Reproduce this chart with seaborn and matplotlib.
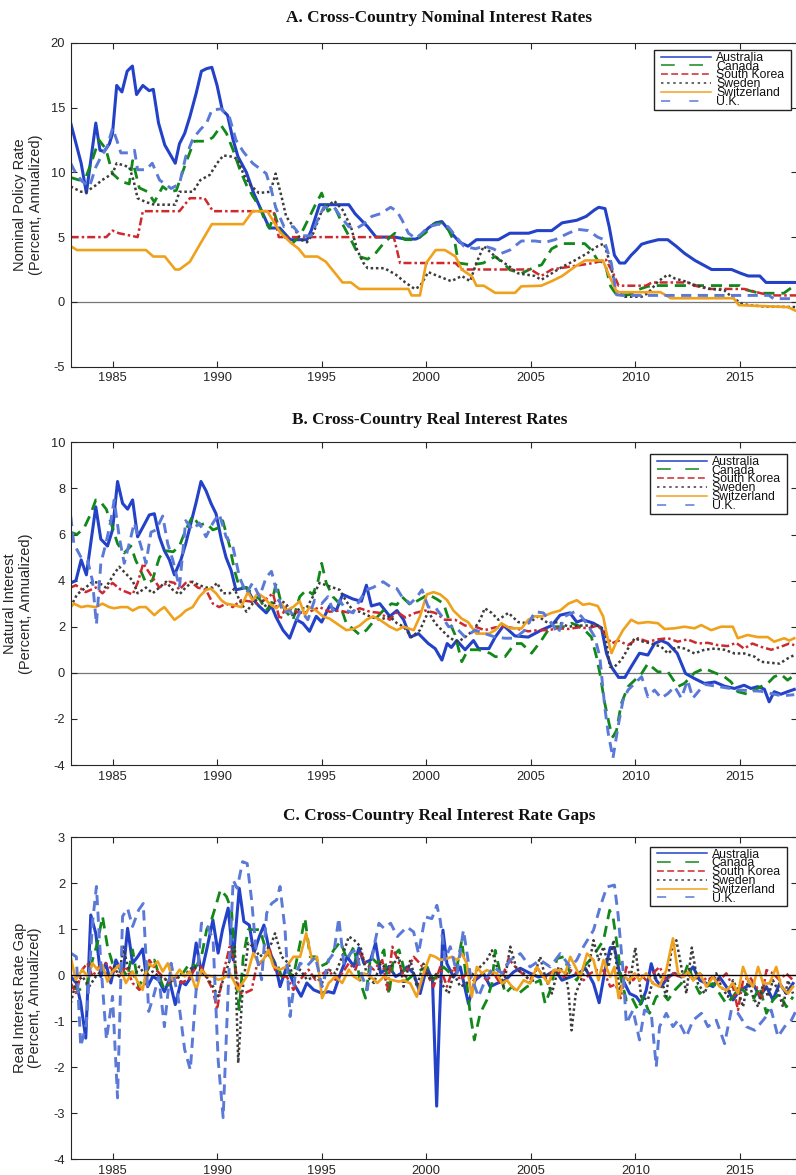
import matplotlib
matplotlib.use("Agg")
import matplotlib.pyplot as plt
from matplotlib.lines import Line2D
from matplotlib.patches import Rectangle
from matplotlib.transforms import IdentityTransform
import pandas as pd
import seaborn as sns

# ---------------- data (year, value) ----------------
countries = ["Australia", "Canada", "South Korea", "Sweden", "Switzerland", "U.K."]

# Panel A: nominal policy rates
aus_a = [(1983.0,13.8),(1983.5,10.7),(1983.75,8.4),(1984.2,13.8),(1984.4,11.7),(1984.6,11.6),(1984.85,12.2),(1985.0,13.0),(1985.2,16.7),(1985.45,16.2),(1985.7,17.8),(1985.95,18.2),(1986.15,16.0),(1986.45,16.7),(1986.75,16.3),(1986.95,16.4),(1987.2,13.8),(1987.5,12.1),(1988.0,10.7),(1988.2,12.2),(1988.45,13.0),(1988.7,14.3),(1989.0,16.1),(1989.25,17.8),(1989.5,18.0),(1989.75,18.1),(1990.0,16.7),(1990.25,14.8),(1990.5,14.4),(1990.75,12.6),(1991.0,11.2),(1991.4,10.0),(1991.75,8.4),(1992.05,7.3),(1992.5,5.7),(1993.0,5.7),(1993.5,4.8),(1994.3,4.8),(1994.5,5.5),(1994.9,7.5),(1996.3,7.5),(1996.6,6.8),(1997.2,5.8),(1997.6,5.0),(1998.5,5.0),(1999.0,4.85),(1999.5,4.85),(1999.7,5.0),(2000.1,5.7),(2000.45,6.1),(2000.75,6.2),(2001.05,5.6),(2001.6,4.6),(2002.0,4.3),(2002.4,4.8),(2003.45,4.8),(2004.0,5.3),(2004.9,5.3),(2005.3,5.5),(2006.0,5.5),(2006.5,6.1),(2007.2,6.3),(2007.65,6.6),(2008.05,7.1),(2008.25,7.3),(2008.55,7.2),(2008.75,5.8),(2009.0,3.6),(2009.25,3.0),(2009.5,3.0),(2009.8,3.6),(2010.05,4.0),(2010.3,4.45),(2010.6,4.6),(2011.1,4.8),(2011.55,4.8),(2011.95,4.3),(2012.35,3.75),(2012.85,3.2),(2013.25,2.85),(2013.65,2.5),(2014.6,2.5),(2015.05,2.2),(2015.4,2.0),(2015.95,2.0),(2016.25,1.5),(2017.75,1.5)]
can_a = [(1983.0,9.6),(1983.4,9.4),(1983.7,9.5),(1984.0,10.8),(1984.35,12.5),(1984.68,11.8),(1985.0,9.9),(1985.4,9.3),(1985.8,9.1),(1985.96,10.9),(1986.28,8.8),(1986.68,8.5),(1987.0,7.7),(1987.4,8.9),(1987.72,8.5),(1988.05,8.6),(1988.5,10.7),(1988.9,12.4),(1989.5,12.4),(1989.8,12.7),(1990.2,13.6),(1990.45,13.0),(1990.77,11.7),(1991.09,10.2),(1991.41,9.0),(1991.73,8.1),(1992.05,7.3),(1992.3,6.2),(1992.5,5.7),(1992.75,6.8),(1993.0,5.5),(1993.3,4.9),(1993.6,4.5),(1994.0,5.2),(1994.4,6.5),(1994.7,7.5),(1995.0,8.4),(1995.3,7.0),(1995.6,7.4),(1996.0,6.0),(1996.4,4.8),(1996.8,3.5),(1997.2,3.3),(1997.6,3.8),(1998.0,4.6),(1998.5,5.3),(1999.0,4.8),(1999.5,4.8),(1999.95,5.3),(2000.35,6.0),(2000.75,6.1),(2001.05,5.6),(2001.38,4.5),(2001.54,3.0),(2002.18,2.86),(2002.73,3.0),(2003.3,3.5),(2003.77,2.86),(2004.0,2.47),(2004.56,2.2),(2005.2,2.7),(2005.52,2.86),(2006.0,4.1),(2006.47,4.5),(2007.58,4.5),(2007.9,4.0),(2008.2,3.2),(2008.54,3.0),(2008.82,1.2),(2009.1,0.55),(2009.7,0.55),(2010.1,0.93),(2010.6,1.2),(2011.1,1.26),(2015.0,1.26),(2015.3,0.93),(2015.95,0.67),(2017.1,0.67),(2017.55,1.2)]
kor_a = [(1983.0,5.0),(1984.7,5.0),(1985.0,5.5),(1985.3,5.3),(1986.2,5.0),(1986.45,7.0),(1988.2,7.0),(1988.7,8.0),(1989.4,8.0),(1989.8,7.0),(1992.7,7.0),(1992.95,5.0),(1998.45,5.0),(1998.75,3.0),(2001.4,3.0),(2001.7,2.5),(2005.0,2.5),(2005.5,2.0),(2006.0,2.5),(2007.0,2.75),(2008.0,3.0),(2008.6,3.25),(2009.0,2.0),(2009.2,1.25),(2010.5,1.25),(2010.8,1.5),(2012.5,1.5),(2012.85,1.25),(2013.5,1.0),(2015.2,1.0),(2016.0,0.67),(2016.5,0.5),(2017.75,0.5)]
swe_a = [(1983.0,8.9),(1983.5,8.5),(1983.75,8.5),(1984.2,9.0),(1984.5,9.4),(1985.0,9.9),(1985.2,10.7),(1985.8,10.4),(1986.0,9.4),(1986.2,8.0),(1986.6,7.7),(1987.0,7.5),(1988.0,7.5),(1988.2,8.5),(1988.85,8.5),(1989.2,9.4),(1989.65,9.8),(1990.0,10.7),(1990.3,11.3),(1990.75,11.2),(1991.0,11.0),(1991.25,9.9),(1991.6,9.0),(1992.0,8.4),(1992.55,8.5),(1992.8,9.9),(1993.1,8.0),(1993.3,6.6),(1993.65,5.8),(1994.0,4.8),(1994.3,4.6),(1994.6,5.3),(1995.0,7.0),(1995.6,7.8),(1996.0,7.1),(1996.4,5.8),(1996.7,4.0),(1997.0,3.0),(1997.2,2.6),(1998.0,2.6),(1998.55,2.1),(1999.0,1.5),(1999.45,1.0),(1999.7,1.2),(2000.1,2.3),(2000.55,2.0),(2001.2,1.6),(2001.7,2.0),(2002.1,1.6),(2002.4,3.0),(2002.75,4.3),(2003.3,3.5),(2004.0,2.7),(2004.4,2.2),(2005.2,2.0),(2005.5,1.7),(2006.0,2.2),(2006.5,2.7),(2007.1,3.2),(2007.7,3.75),(2008.2,4.3),(2008.5,4.5),(2008.85,2.7),(2009.05,0.9),(2009.5,0.4),(2010.3,0.4),(2010.6,0.67),(2011.1,1.6),(2011.55,2.1),(2011.9,1.8),(2012.35,1.6),(2012.85,1.3),(2013.6,1.0),(2014.25,0.9),(2014.6,0.4),(2015.05,-0.1),(2015.4,-0.25),(2016.2,-0.36),(2017.75,-0.4)]
swi_a = [(1983.0,4.3),(1983.3,4.0),(1986.6,4.0),(1986.95,3.5),(1987.5,3.5),(1988.0,2.5),(1988.2,2.5),(1988.7,3.1),(1989.2,4.5),(1989.75,6.0),(1991.25,6.0),(1991.7,7.0),(1992.4,7.0),(1993.0,5.4),(1993.5,4.6),(1993.9,4.1),(1994.2,3.5),(1994.8,3.5),(1995.2,3.1),(1995.6,2.3),(1996.0,1.5),(1996.4,1.5),(1996.8,1.0),(1999.15,1.0),(1999.3,0.5),(1999.7,0.5),(2000.0,3.0),(2000.45,4.0),(2000.9,4.0),(2001.4,3.5),(2001.7,2.5),(2002.2,1.95),(2002.4,1.25),(2002.75,1.25),(2003.3,0.7),(2004.25,0.7),(2004.55,1.2),(2005.5,1.25),(2006.0,1.6),(2006.5,2.0),(2007.1,2.7),(2007.6,3.2),(2008.45,3.2),(2008.7,2.2),(2009.1,0.8),(2009.2,0.75),(2011.2,0.75),(2011.7,0.28),(2014.7,0.28),(2014.95,-0.25),(2016.2,-0.33),(2017.3,-0.4),(2017.75,-0.75)]
uk_a = [(1983.0,10.7),(1983.25,9.9),(1983.55,9.3),(1983.9,8.9),(1984.2,10.4),(1984.45,11.2),(1984.75,12.0),(1985.0,13.4),(1985.2,12.5),(1985.4,11.5),(1985.8,11.5),(1986.05,11.7),(1986.2,10.2),(1986.6,10.2),(1986.9,10.7),(1987.25,9.4),(1987.6,9.0),(1987.8,8.75),(1988.2,9.1),(1988.5,11.2),(1988.85,12.6),(1989.2,13.3),(1989.5,13.8),(1989.75,14.8),(1990.2,14.9),(1990.6,14.2),(1990.9,12.5),(1991.25,11.6),(1991.7,10.7),(1992.35,9.9),(1992.6,8.6),(1992.8,7.3),(1993.2,5.8),(1993.65,5.8),(1994.0,5.1),(1994.5,5.1),(1994.8,6.3),(1995.1,7.3),(1995.6,7.3),(1995.9,6.6),(1996.3,5.8),(1996.7,5.7),(1997.0,6.0),(1997.4,6.6),(1997.8,6.8),(1998.3,7.3),(1998.6,7.0),(1998.85,6.3),(1999.15,5.3),(1999.5,4.9),(1999.8,5.3),(2000.1,5.8),(2000.6,6.0),(2001.05,5.8),(2001.45,5.0),(2001.8,4.3),(2002.35,4.1),(2002.8,4.3),(2003.2,4.1),(2003.6,3.75),(2004.0,4.0),(2004.55,4.7),(2005.2,4.7),(2005.7,4.6),(2006.15,4.8),(2006.8,5.3),(2007.25,5.6),(2007.75,5.5),(2008.2,5.0),(2008.5,4.8),(2008.85,3.0),(2009.1,0.55),(2009.35,0.5),(2016.4,0.5),(2016.6,0.25),(2017.75,0.25)]

# Panel B: real (natural) interest rates
aus_b = [(1983.0,3.9),(1983.25,4.0),(1983.5,4.9),(1983.75,4.25),(1984.2,7.2),(1984.44,5.8),(1984.76,5.5),(1985.0,6.2),(1985.24,8.3),(1985.48,7.35),(1985.72,7.1),(1985.96,7.5),(1986.2,5.9),(1986.44,6.3),(1986.76,6.85),(1987.0,6.9),(1987.24,5.9),(1987.48,5.3),(1987.72,4.9),(1987.96,4.25),(1988.27,4.9),(1988.5,5.6),(1988.75,6.5),(1989.0,7.4),(1989.23,8.3),(1989.47,7.9),(1989.71,7.35),(1989.95,6.9),(1990.2,5.8),(1990.43,5.0),(1990.67,4.45),(1990.9,3.6),(1991.4,3.7),(1991.7,3.2),(1992.0,2.9),(1992.35,2.6),(1992.6,2.9),(1992.83,2.4),(1993.15,1.85),(1993.47,1.5),(1993.8,2.3),(1994.1,2.15),(1994.42,1.8),(1994.74,2.45),(1995.0,2.2),(1995.38,2.9),(1995.7,2.7),(1996.0,3.4),(1996.5,3.2),(1996.9,3.1),(1997.14,3.8),(1997.38,2.9),(1997.78,3.0),(1998.26,2.45),(1998.6,2.7),(1998.92,2.3),(1999.24,1.55),(1999.63,1.7),(2000.1,1.27),(2000.43,1.05),(2000.75,0.55),(2001.0,1.27),(2001.2,1.1),(2001.46,1.4),(2001.86,1.0),(2002.26,1.4),(2002.5,1.05),(2003.0,1.05),(2003.3,1.55),(2003.7,2.05),(2004.24,1.6),(2004.88,1.55),(2005.5,1.85),(2006.0,2.05),(2006.4,2.5),(2006.87,2.6),(2007.2,2.2),(2007.5,2.3),(2008.0,2.15),(2008.38,1.95),(2008.62,0.85),(2008.86,0.25),(2009.2,-0.2),(2009.5,-0.2),(2009.8,0.26),(2010.2,0.85),(2010.6,0.77),(2010.92,1.27),(2011.24,1.4),(2011.56,1.27),(2012.0,0.85),(2012.4,-0.03),(2012.83,-0.25),(2013.3,-0.46),(2013.8,-0.4),(2014.26,-0.58),(2014.74,-0.68),(2015.2,-0.54),(2015.53,-0.68),(2015.85,-0.6),(2016.17,-0.71),(2016.4,-1.26),(2016.64,-0.82),(2016.96,-0.93),(2017.28,-0.82),(2017.6,-0.72)]
can_b = [(1983.0,6.1),(1983.3,6.0),(1983.65,6.3),(1983.96,6.9),(1984.2,7.5),(1984.44,7.4),(1984.7,7.1),(1985.0,6.3),(1985.24,5.6),(1985.56,5.2),(1985.88,5.5),(1986.1,4.9),(1986.36,4.4),(1986.6,3.9),(1986.9,4.0),(1987.24,5.0),(1987.5,5.3),(1987.9,5.25),(1988.2,5.5),(1988.5,6.2),(1988.83,6.8),(1989.15,6.4),(1989.47,6.5),(1989.8,6.2),(1990.1,6.3),(1990.27,6.6),(1990.6,5.5),(1990.83,4.45),(1991.07,3.7),(1991.4,3.7),(1991.7,3.4),(1992.03,3.2),(1992.35,2.7),(1992.6,3.0),(1992.83,3.9),(1993.07,3.0),(1993.3,2.65),(1993.63,2.3),(1993.95,3.3),(1994.27,3.6),(1994.58,3.4),(1994.83,4.0),(1995.0,4.75),(1995.22,3.9),(1995.54,3.3),(1995.86,3.0),(1996.18,2.15),(1996.5,1.9),(1996.82,1.65),(1997.14,1.85),(1997.54,2.3),(1997.94,2.7),(1998.34,3.0),(1998.6,2.95),(1998.84,3.3),(1999.24,2.95),(1999.63,3.15),(2000.1,3.4),(2000.5,3.2),(2000.83,3.0),(2001.14,2.15),(2001.38,1.65),(2001.7,0.48),(2002.0,1.0),(2002.5,1.0),(2003.05,0.85),(2003.3,0.7),(2003.77,0.7),(2004.24,1.27),(2004.56,1.27),(2005.04,0.85),(2005.5,1.4),(2005.83,1.85),(2006.15,2.0),(2006.63,2.0),(2006.95,2.15),(2007.42,2.0),(2007.9,1.55),(2008.14,0.7),(2008.3,0.0),(2008.54,-1.33),(2008.78,-2.35),(2008.93,-2.78),(2009.1,-2.5),(2009.33,-1.33),(2009.65,-0.6),(2009.97,-0.32),(2010.3,-0.03),(2010.6,0.4),(2011.08,0.04),(2011.56,0.04),(2012.03,-0.6),(2012.35,-0.46),(2012.83,0.0),(2013.3,0.19),(2013.8,0.0),(2014.26,-0.17),(2014.58,-0.4),(2014.9,-0.82),(2015.37,-0.93),(2015.7,-0.75),(2016.0,-0.6),(2016.33,-0.46),(2016.64,-0.17),(2016.96,-0.06),(2017.28,-0.32),(2017.6,-0.1)]
kor_b = [(1983.0,3.7),(1983.25,3.8),(1983.72,3.5),(1984.2,3.7),(1984.52,3.45),(1985.0,3.9),(1985.4,3.6),(1985.96,3.4),(1986.2,3.9),(1986.47,4.75),(1986.68,4.45),(1986.9,4.15),(1987.24,3.7),(1987.72,3.95),(1987.96,3.9),(1988.2,3.6),(1988.5,3.9),(1988.75,3.95),(1989.07,3.7),(1989.47,3.6),(1989.8,3.0),(1990.1,2.85),(1990.43,3.0),(1990.75,2.85),(1991.15,3.15),(1991.55,3.1),(1991.95,3.0),(1992.35,3.2),(1992.67,3.45),(1993.0,2.3),(1993.3,2.85),(1993.63,2.7),(1993.95,2.6),(1994.42,2.65),(1994.9,2.85),(1995.38,2.65),(1995.86,2.7),(1996.34,2.6),(1996.82,2.8),(1997.3,2.65),(1997.78,2.6),(1998.26,2.3),(1998.6,2.65),(1999.0,2.4),(1999.48,2.6),(1999.95,2.7),(2000.43,2.6),(2000.9,2.3),(2001.38,2.3),(2001.86,2.05),(2002.34,2.0),(2002.8,1.85),(2003.3,1.97),(2003.77,2.0),(2004.24,1.93),(2004.88,1.8),(2005.36,1.85),(2005.83,1.85),(2006.3,1.93),(2006.8,1.9),(2007.27,1.97),(2007.74,1.93),(2008.2,2.05),(2008.54,1.7),(2008.86,1.27),(2009.17,1.4),(2009.65,1.2),(2010.13,1.5),(2010.6,1.35),(2011.08,1.45),(2011.56,1.5),(2012.03,1.35),(2012.5,1.45),(2012.99,1.27),(2013.47,1.3),(2013.94,1.2),(2014.42,1.16),(2014.82,1.3),(2015.2,1.05),(2015.6,1.27),(2016.0,1.13),(2016.5,1.0),(2016.96,1.13),(2017.36,1.27),(2017.6,1.2)]
swe_b = [(1983.0,2.85),(1983.3,3.4),(1983.72,3.7),(1984.04,3.95),(1984.36,3.9),(1984.68,3.7),(1985.08,4.3),(1985.32,4.6),(1985.64,4.3),(1985.96,4.0),(1986.2,3.45),(1986.6,3.7),(1986.92,3.45),(1987.24,3.7),(1987.56,3.95),(1987.88,3.6),(1988.2,3.4),(1988.5,3.7),(1988.83,3.95),(1989.15,3.8),(1989.47,3.7),(1989.8,3.7),(1990.0,3.9),(1990.27,3.45),(1990.6,3.45),(1990.83,3.65),(1991.07,3.15),(1991.4,2.65),(1991.7,3.0),(1992.03,3.3),(1992.35,2.85),(1992.67,3.0),(1993.0,3.15),(1993.3,3.0),(1993.63,2.45),(1993.95,2.8),(1994.27,2.8),(1994.58,3.3),(1994.9,3.9),(1995.22,3.8),(1995.54,3.7),(1995.86,3.6),(1996.18,3.1),(1996.5,2.7),(1996.82,2.65),(1997.3,2.45),(1997.78,2.3),(1998.26,2.45),(1998.6,2.15),(1998.92,2.0),(1999.3,1.55),(1999.7,1.85),(2000.1,2.65),(2000.43,2.15),(2000.75,1.85),(2001.14,1.5),(2001.54,1.35),(2001.86,1.55),(2002.26,1.85),(2002.58,2.3),(2002.8,2.8),(2003.13,2.6),(2003.45,2.3),(2003.93,2.6),(2004.4,2.2),(2004.88,2.15),(2005.36,2.45),(2005.83,2.15),(2006.3,2.2),(2006.8,2.0),(2007.27,2.05),(2007.74,2.05),(2008.2,2.05),(2008.54,1.85),(2008.78,0.26),(2009.0,0.26),(2009.33,0.55),(2009.65,1.05),(2009.97,1.5),(2010.37,1.35),(2010.76,1.27),(2011.24,1.13),(2011.56,0.84),(2011.96,1.13),(2012.35,1.05),(2012.83,0.84),(2013.3,1.0),(2013.8,1.05),(2014.26,1.0),(2014.74,0.84),(2015.2,0.84),(2015.7,0.7),(2016.0,0.48),(2016.5,0.43),(2016.9,0.4),(2017.28,0.62),(2017.6,0.77)]
swi_b = [(1983.0,2.85),(1983.15,3.0),(1983.5,2.85),(1983.8,2.9),(1984.2,2.85),(1984.52,3.0),(1984.84,2.85),(1985.08,2.8),(1985.4,2.85),(1985.72,2.85),(1985.96,2.7),(1986.28,2.85),(1986.6,2.85),(1987.0,2.5),(1987.24,2.7),(1987.48,2.85),(1987.96,2.3),(1988.27,2.5),(1988.5,2.7),(1988.83,2.85),(1989.15,3.3),(1989.47,3.6),(1989.7,3.65),(1989.95,3.45),(1990.2,3.15),(1990.43,3.0),(1990.75,2.95),(1991.15,2.85),(1991.47,3.5),(1991.7,3.15),(1991.95,3.45),(1992.27,3.25),(1992.5,3.0),(1992.83,2.8),(1993.07,3.0),(1993.3,2.7),(1993.63,2.85),(1993.95,3.1),(1994.2,2.5),(1994.42,2.85),(1994.74,2.7),(1995.06,2.45),(1995.38,2.35),(1995.7,2.15),(1996.18,1.85),(1996.5,1.9),(1996.82,2.05),(1997.14,2.3),(1997.46,2.45),(1997.78,2.3),(1998.26,2.0),(1998.6,1.85),(1998.92,2.0),(1999.4,1.85),(1999.7,2.45),(2000.03,3.4),(2000.35,3.5),(2000.67,3.4),(2001.0,3.15),(2001.3,2.7),(2001.7,2.35),(2002.0,2.2),(2002.4,1.7),(2003.0,1.7),(2003.3,1.85),(2003.6,2.15),(2004.0,1.93),(2004.56,1.93),(2004.88,2.3),(2005.2,2.45),(2005.6,2.45),(2006.0,2.6),(2006.4,2.7),(2006.8,3.0),(2007.2,3.15),(2007.5,2.95),(2007.8,3.0),(2008.2,2.9),(2008.46,2.45),(2008.66,1.55),(2008.86,0.85),(2009.1,1.35),(2009.41,1.85),(2009.8,2.3),(2010.13,2.15),(2010.6,2.2),(2011.08,2.15),(2011.4,1.9),(2011.88,1.93),(2012.35,2.0),(2012.83,1.93),(2013.15,2.07),(2013.63,1.85),(2014.1,2.0),(2014.66,2.0),(2014.9,1.5),(2015.37,1.64),(2015.85,1.55),(2016.33,1.55),(2016.64,1.35),(2017.12,1.5),(2017.36,1.4),(2017.6,1.5)]
uk_b = [(1983.0,6.8),(1983.15,5.6),(1983.5,5.0),(1983.8,4.9),(1984.04,4.0),(1984.23,2.1),(1984.44,4.75),(1984.68,5.6),(1984.92,6.6),(1985.08,7.5),(1985.32,5.9),(1985.56,4.75),(1985.88,5.9),(1986.04,6.5),(1986.28,5.75),(1986.6,4.75),(1986.84,6.1),(1987.08,6.2),(1987.4,6.8),(1987.64,5.6),(1987.88,4.9),(1988.2,3.7),(1988.5,6.6),(1988.83,6.2),(1989.15,6.5),(1989.47,5.9),(1989.8,6.5),(1990.1,6.9),(1990.43,5.9),(1990.75,5.5),(1991.07,4.15),(1991.4,3.45),(1991.7,3.9),(1992.03,3.3),(1992.35,4.15),(1992.6,4.4),(1992.83,3.6),(1993.15,2.6),(1993.47,2.7),(1993.8,2.3),(1994.0,2.7),(1994.34,2.3),(1994.66,3.15),(1995.0,3.0),(1995.3,3.3),(1995.54,2.7),(1995.86,3.15),(1996.18,2.7),(1996.5,2.6),(1996.82,3.15),(1997.14,3.6),(1997.46,3.7),(1997.94,3.95),(1998.34,3.7),(1998.6,3.65),(1998.84,3.3),(1999.24,3.0),(1999.56,3.3),(1999.8,3.6),(2000.1,2.85),(2000.43,2.85),(2000.75,2.45),(2001.07,2.0),(2001.38,2.0),(2001.86,1.55),(2002.34,1.85),(2002.8,1.7),(2003.3,1.55),(2003.77,1.5),(2004.24,1.5),(2004.72,1.85),(2005.2,2.65),(2005.6,2.6),(2006.0,2.15),(2006.3,1.7),(2006.63,2.45),(2007.1,2.65),(2007.42,2.45),(2007.74,2.05),(2008.06,1.55),(2008.3,0.7),(2008.54,-1.5),(2008.7,-2.6),(2008.93,-3.7),(2009.17,-2.35),(2009.41,-1.2),(2009.65,-0.75),(2009.97,-0.46),(2010.3,-0.17),(2010.6,-1.04),(2010.92,-0.75),(2011.24,-1.1),(2011.56,-0.9),(2011.88,-0.6),(2012.2,-1.1),(2012.5,-0.32),(2012.75,-1.1),(2013.3,-0.5),(2014.0,-0.6),(2015.0,-0.75),(2016.0,-0.8),(2017.0,-1.0),(2017.6,-0.95)]

# Panel C: real interest rate gaps
aus_c = [(1983.0,-0.03),(1983.27,-0.17),(1983.48,-0.61),(1983.72,-1.37),(1983.96,1.31),(1984.2,0.91),(1984.44,-0.03),(1984.68,0.26),(1984.92,-0.17),(1985.16,0.33),(1985.5,0.0),(1985.72,1.02),(1985.96,0.26),(1986.2,0.4),(1986.44,0.57),(1986.68,-0.25),(1986.92,-0.03),(1987.2,-0.1),(1987.48,-0.36),(1987.72,-0.1),(1988.0,-0.64),(1988.28,-0.14),(1988.5,-0.21),(1988.77,-0.03),(1989.0,0.7),(1989.25,0.04),(1989.5,0.55),(1989.8,1.2),(1990.05,0.48),(1990.26,0.99),(1990.53,1.46),(1990.77,0.33),(1991.06,1.89),(1991.28,1.17),(1991.54,1.09),(1991.76,0.48),(1992.02,0.84),(1992.24,1.09),(1992.53,0.48),(1992.77,0.26),(1993.01,-0.25),(1993.33,0.19),(1993.65,-0.17),(1994.02,-0.46),(1994.29,-0.17),(1994.62,-0.32),(1995.0,-0.39),(1995.33,-0.36),(1995.58,-0.39),(1995.9,0.04),(1996.22,0.4),(1996.54,0.19),(1996.78,0.59),(1997.02,0.26),(1997.34,0.33),(1997.58,0.7),(1997.82,0.04),(1998.22,0.19),(1998.54,-0.03),(1998.8,0.04),(1999.08,0.18),(1999.4,0.04),(1999.71,-0.4),(2000.03,0.18),(2000.3,-0.11),(2000.5,-2.85),(2000.62,-1.12),(2000.8,0.98),(2000.99,0.25),(2001.31,-0.04),(2001.63,0.18),(2002.02,-0.62),(2002.34,-0.11),(2002.74,0.04),(2003.06,-0.25),(2003.38,-0.18),(2003.78,-0.11),(2004.18,0.07),(2004.5,0.15),(2004.97,0.04),(2005.37,-0.04),(2005.77,0.0),(2006.17,0.11),(2006.49,-0.11),(2006.89,-0.04),(2007.29,0.04),(2007.61,0.15),(2008.0,-0.18),(2008.27,-0.6),(2008.55,0.11),(2008.8,0.6),(2009.0,0.6),(2009.25,0.04),(2009.49,-0.18),(2009.73,-0.4),(2010.05,-0.47),(2010.28,-0.62),(2010.52,-0.33),(2010.76,0.25),(2011.0,-0.11),(2011.24,-0.25),(2011.56,-0.04),(2011.88,0.04),(2012.2,-0.04),(2012.52,0.04),(2012.76,0.18),(2013.08,-0.11),(2013.4,-0.18),(2013.71,-0.25),(2014.03,-0.04),(2014.35,-0.25),(2014.67,-0.54),(2014.99,-0.33),(2015.31,-0.25),(2015.63,-0.18),(2015.95,-0.47),(2016.27,-0.25),(2016.58,-0.54),(2016.9,-0.18),(2017.22,-0.4),(2017.54,-0.18)]
can_c = [(1983.0,-0.25),(1983.4,-0.32),(1983.75,-0.25),(1984.04,0.33),(1984.28,0.7),(1984.52,1.28),(1984.76,0.62),(1985.0,0.26),(1985.24,0.19),(1985.48,0.12),(1985.72,-0.03),(1985.96,0.55),(1986.25,-0.25),(1986.52,-0.03),(1986.76,0.19),(1987.0,0.33),(1987.24,-0.03),(1987.48,-0.32),(1987.72,-0.17),(1988.04,-0.03),(1988.36,0.04),(1988.69,0.26),(1989.0,0.19),(1989.25,0.4),(1989.5,0.99),(1989.73,1.2),(1989.97,1.56),(1990.16,1.86),(1990.45,1.71),(1990.69,1.42),(1990.9,-0.1),(1991.06,-0.75),(1991.25,0.4),(1991.49,0.99),(1991.73,0.99),(1992.05,0.99),(1992.29,0.62),(1992.53,0.4),(1992.85,0.26),(1993.09,-0.03),(1993.33,0.12),(1993.65,-0.03),(1993.97,0.7),(1994.2,1.24),(1994.45,0.4),(1994.7,0.4),(1994.94,0.19),(1995.25,0.26),(1995.58,0.55),(1995.9,0.73),(1996.22,0.33),(1996.54,0.62),(1996.86,-0.17),(1997.1,-0.5),(1997.34,0.4),(1997.66,0.26),(1997.98,0.55),(1998.22,-0.43),(1998.46,0.44),(1998.7,0.55),(1999.08,-0.11),(1999.55,0.07),(2000.03,0.18),(2000.35,-0.1),(2000.83,0.18),(2001.15,0.04),(2001.47,0.18),(2001.7,0.76),(2001.94,-0.18),(2002.1,-0.83),(2002.3,-1.41),(2002.58,-0.83),(2002.9,-0.54),(2003.14,-0.18),(2003.3,0.54),(2003.54,0.04),(2003.78,-0.4),(2004.1,-0.25),(2004.42,-0.4),(2004.82,-0.25),(2005.13,-0.18),(2005.45,-0.11),(2005.69,-0.62),(2005.93,-0.33),(2006.25,0.36),(2006.57,0.4),(2006.89,0.04),(2007.2,-0.11),(2007.52,0.18),(2007.84,0.33),(2008.16,0.54),(2008.48,0.76),(2008.77,1.41),(2008.93,1.27),(2009.17,0.54),(2009.33,-0.11),(2009.57,-0.54),(2009.81,-0.47),(2010.13,-0.76),(2010.36,-0.47),(2010.68,-0.83),(2011.0,-0.47),(2011.32,-0.4),(2011.56,-0.54),(2011.88,-0.33),(2012.2,-0.18),(2012.52,0.25),(2012.76,-0.11),(2013.08,-0.4),(2013.4,-0.25),(2013.71,-0.18),(2014.03,-0.4),(2014.35,-0.62),(2014.67,-0.47),(2014.99,-0.25),(2015.31,-0.4),(2015.63,-0.54),(2015.95,-0.25),(2016.27,-0.83),(2016.58,-0.54),(2016.9,-0.4),(2017.22,-0.69),(2017.54,-0.47)]
kor_c = [(1983.0,-0.17),(1983.25,-0.39),(1983.55,0.12),(1983.8,0.26),(1984.04,-0.03),(1984.36,0.19),(1984.68,0.26),(1985.0,0.12),(1985.32,-0.03),(1985.64,0.19),(1985.96,-0.17),(1986.28,-0.32),(1986.6,-0.17),(1986.76,0.33),(1987.08,0.12),(1987.4,-0.03),(1987.72,-0.17),(1988.04,-0.03),(1988.28,-0.17),(1988.6,-0.1),(1988.92,0.12),(1989.15,0.26),(1989.47,-0.03),(1989.8,-0.32),(1990.0,-0.75),(1990.26,-0.03),(1990.6,0.62),(1990.84,0.26),(1991.08,-0.39),(1991.32,-0.39),(1991.65,-0.32),(1991.89,0.19),(1992.21,0.33),(1992.53,0.55),(1992.77,0.12),(1993.09,-0.03),(1993.33,-0.03),(1993.65,-0.32),(1993.97,-0.1),(1994.37,0.12),(1994.7,-0.1),(1994.94,0.0),(1995.33,0.12),(1995.66,-0.1),(1995.98,0.04),(1996.3,0.26),(1996.62,0.12),(1996.86,0.48),(1997.18,0.22),(1997.5,0.12),(1997.9,0.33),(1998.14,-0.32),(1998.38,0.62),(1998.7,0.26),(1998.93,-0.04),(1999.4,0.4),(1999.71,0.25),(2000.03,0.04),(2000.35,-0.25),(2000.67,0.18),(2000.99,-0.25),(2001.31,0.18),(2001.63,-0.11),(2001.95,0.04),(2002.26,-0.11),(2002.58,0.04),(2002.9,-0.11),(2003.22,0.04),(2003.54,-0.18),(2003.94,0.36),(2004.26,0.18),(2004.58,0.04),(2004.97,-0.11),(2005.29,0.18),(2005.61,-0.04),(2005.93,0.04),(2006.25,0.11),(2006.57,-0.04),(2006.89,0.11),(2007.21,0.04),(2007.53,-0.11),(2007.85,0.04),(2008.16,0.11),(2008.48,0.1),(2008.8,-0.25),(2009.05,-0.2),(2009.3,-0.5),(2009.57,0.18),(2009.89,-0.11),(2010.2,0.04),(2010.52,-0.11),(2010.84,0.04),(2011.16,0.18),(2011.48,-0.11),(2011.8,0.04),(2012.12,-0.04),(2012.44,0.07),(2012.76,-0.11),(2013.08,0.04),(2013.4,-0.11),(2013.71,-0.04),(2014.03,-0.11),(2014.35,0.04),(2014.67,-0.25),(2014.91,-0.76),(2015.15,-0.11),(2015.47,-0.04),(2015.79,-0.25),(2016.03,-0.54),(2016.27,0.11),(2016.58,0.04),(2016.9,-0.11),(2017.22,0.04),(2017.54,-0.11)]
swe_c = [(1983.0,-0.61),(1983.24,-0.17),(1983.56,-0.03),(1983.88,-0.25),(1984.2,-0.03),(1984.52,0.12),(1984.84,-0.03),(1985.08,0.19),(1985.32,-0.03),(1985.51,0.62),(1985.72,0.19),(1986.04,-0.03),(1986.28,0.19),(1986.6,-0.03),(1986.92,0.08),(1987.24,-0.03),(1987.56,-0.1),(1987.88,-0.17),(1988.2,-0.03),(1988.53,0.04),(1988.85,0.19),(1989.17,0.12),(1989.49,-0.03),(1989.81,-0.25),(1990.05,-0.46),(1990.29,-0.1),(1990.61,0.33),(1990.85,0.62),(1991.01,-1.91),(1991.22,-0.32),(1991.49,0.7),(1991.73,0.62),(1992.05,0.4),(1992.37,0.55),(1992.61,0.7),(1992.77,0.91),(1993.09,0.4),(1993.41,0.26),(1993.65,-0.03),(1993.97,0.12),(1994.3,-0.1),(1994.7,-0.03),(1995.02,-0.17),(1995.34,0.12),(1995.66,0.04),(1995.98,0.4),(1996.3,0.84),(1996.54,0.77),(1996.86,0.62),(1997.18,-0.03),(1997.5,-0.17),(1997.82,0.26),(1998.14,0.12),(1998.46,0.26),(1998.7,0.4),(1998.92,-0.25),(1999.24,0.33),(1999.55,-0.25),(1999.87,0.25),(2000.19,-0.11),(2000.51,0.04),(2000.83,-0.25),(2001.07,-0.4),(2001.31,0.04),(2001.63,-0.25),(2001.94,-0.18),(2002.26,0.04),(2002.58,0.18),(2002.9,0.33),(2003.14,0.54),(2003.38,0.18),(2003.7,-0.25),(2004.02,0.62),(2004.34,0.11),(2004.66,0.04),(2005.05,-0.18),(2005.45,0.4),(2005.69,-0.04),(2006.01,-0.4),(2006.33,0.18),(2006.65,0.04),(2006.8,-0.33),(2006.95,-1.2),(2007.15,-0.4),(2007.53,0.04),(2007.77,0.18),(2008.0,0.76),(2008.24,0.33),(2008.48,0.62),(2008.72,0.18),(2008.96,0.76),(2009.25,-0.33),(2009.49,0.04),(2009.73,-0.18),(2010.0,0.6),(2010.28,-0.47),(2010.6,-0.54),(2010.84,-0.11),(2011.16,0.04),(2011.48,-0.47),(2011.72,0.54),(2011.96,0.76),(2012.2,0.18),(2012.44,-0.4),(2012.7,0.6),(2012.99,-0.18),(2013.31,-0.4),(2013.55,-0.11),(2013.87,0.04),(2014.11,-0.25),(2014.43,-0.47),(2014.67,-0.11),(2014.91,-0.33),(2015.15,-0.69),(2015.39,-0.11),(2015.63,-0.47),(2015.87,-0.69),(2016.11,-0.18),(2016.35,-0.47),(2016.58,-0.11),(2016.82,-0.33),(2017.06,-0.69),(2017.3,-0.11),(2017.54,-0.4)]
swi_c = [(1983.0,0.4),(1983.24,-0.1),(1983.56,0.12),(1983.8,-0.03),(1984.04,0.26),(1984.28,0.12),(1984.52,0.22),(1984.76,-0.14),(1985.0,0.08),(1985.32,0.22),(1985.64,-0.17),(1985.96,0.08),(1986.2,-0.14),(1986.44,-0.32),(1986.68,0.26),(1986.92,0.19),(1987.16,0.3),(1987.4,0.08),(1987.64,0.26),(1987.88,-0.1),(1988.21,0.12),(1988.45,-0.03),(1988.69,0.08),(1989.01,-0.32),(1989.25,0.12),(1989.49,0.0),(1989.81,-0.03),(1990.05,-0.1),(1990.29,-0.07),(1990.61,0.04),(1990.77,-0.1),(1991.01,-0.32),(1991.41,-0.03),(1991.73,0.48),(1991.97,0.26),(1992.21,0.33),(1992.45,0.55),(1992.69,0.19),(1993.01,0.12),(1993.33,0.19),(1993.65,0.4),(1993.97,0.4),(1994.26,0.91),(1994.54,0.33),(1994.78,0.4),(1995.02,-0.5),(1995.34,-0.17),(1995.66,-0.03),(1995.98,-0.17),(1996.3,0.12),(1996.54,-0.03),(1996.78,-0.1),(1997.02,0.04),(1997.34,-0.03),(1997.66,-0.17),(1997.98,-0.03),(1998.3,-0.1),(1998.7,-0.14),(1998.92,-0.11),(1999.24,-0.18),(1999.55,-0.47),(1999.87,0.04),(2000.19,0.44),(2000.43,0.4),(2000.67,0.33),(2000.99,0.36),(2001.23,0.4),(2001.47,0.33),(2001.71,0.47),(2001.94,0.25),(2002.18,-0.47),(2002.42,0.18),(2002.66,0.04),(2002.9,0.11),(2003.14,0.07),(2003.38,0.04),(2003.62,-0.18),(2003.86,-0.11),(2004.1,-0.25),(2004.34,-0.33),(2004.66,-0.11),(2004.97,-0.18),(2005.29,0.18),(2005.61,-0.04),(2005.85,-0.18),(2006.09,0.11),(2006.41,0.11),(2006.65,0.04),(2006.89,0.4),(2007.13,0.18),(2007.37,-0.04),(2007.69,0.47),(2008.0,0.33),(2008.24,-0.11),(2008.48,0.33),(2008.8,-0.04),(2009.0,0.18),(2009.2,-0.5),(2009.49,-0.04),(2009.73,-0.11),(2009.97,0.04),(2010.2,-0.11),(2010.52,0.04),(2010.84,-0.18),(2011.16,-0.25),(2011.48,0.11),(2011.8,0.8),(2012.04,0.04),(2012.28,-0.04),(2012.52,0.07),(2012.76,-0.11),(2013.08,0.04),(2013.4,-0.25),(2013.71,-0.04),(2014.03,-0.25),(2014.35,-0.33),(2014.67,-0.18),(2014.91,-0.4),(2015.15,0.18),(2015.39,-0.11),(2015.63,-0.25),(2015.87,0.18),(2016.11,-0.18),(2016.42,-0.18),(2016.74,0.18),(2016.98,-0.25),(2017.3,-0.4),(2017.54,-0.25)]
uk_c = [(1983.0,0.48),(1983.27,0.4),(1983.48,-1.55),(1983.75,-1.05),(1984.04,1.13),(1984.23,1.93),(1984.44,0.26),(1984.71,-1.4),(1985.0,-0.46),(1985.24,-2.67),(1985.48,1.28),(1985.72,1.45),(1985.96,1.06),(1986.25,1.42),(1986.47,1.56),(1986.73,-0.79),(1986.96,-0.46),(1987.21,-0.03),(1987.48,-1.12),(1987.8,0.26),(1988.13,-0.46),(1988.45,-1.62),(1988.72,-2.06),(1989.01,-0.25),(1989.25,1.13),(1989.49,1.13),(1989.81,0.77),(1990.05,-1.84),(1990.29,-3.1),(1990.53,-0.32),(1990.77,2.07),(1990.96,1.89),(1991.22,2.47),(1991.44,2.43),(1991.65,1.64),(1991.89,0.4),(1992.13,-0.1),(1992.37,1.35),(1992.61,1.56),(1992.85,1.64),(1993.01,1.93),(1993.25,0.99),(1993.49,-0.9),(1993.73,-0.03),(1993.97,0.26),(1994.29,0.19),(1994.7,0.4),(1995.02,-0.25),(1995.34,0.33),(1995.58,0.48),(1995.82,1.24),(1996.06,0.26),(1996.38,0.48),(1996.62,0.55),(1996.94,-0.03),(1997.18,-0.32),(1997.5,0.62),(1997.74,1.13),(1997.98,1.02),(1998.3,1.13),(1998.62,0.84),(1999.08,1.05),(1999.4,0.94),(1999.63,0.47),(1999.95,1.27),(2000.27,1.23),(2000.51,1.52),(2000.67,1.2),(2000.9,0.33),(2001.15,0.62),(2001.47,0.04),(2001.78,0.98),(2002.1,0.04),(2002.5,-0.47),(2002.82,-0.11),(2003.22,0.18),(2003.62,0.04),(2004.02,0.33),(2004.5,0.47),(2004.97,0.18),(2005.45,0.33),(2005.93,0.18),(2006.41,0.47),(2006.89,0.18),(2007.2,0.33),(2007.52,0.62),(2008.0,0.98),(2008.32,1.49),(2008.64,1.92),(2009.0,1.96),(2009.17,1.34),(2009.41,0.11),(2009.57,-1.05),(2009.89,-0.76),(2010.2,-1.41),(2010.44,-0.76),(2010.76,-0.83),(2011.0,-1.99),(2011.16,-1.12),(2011.48,-0.83),(2011.8,-1.12),(2012.04,-0.98),(2012.44,-1.34),(2012.76,-0.98),(2013.16,-0.83),(2013.47,-1.12),(2013.87,-0.98),(2014.27,-1.49),(2014.59,-0.76),(2014.91,-0.83),(2015.31,-1.12),(2015.71,-1.2),(2016.11,-0.98),(2016.5,-0.76),(2016.82,-1.34),(2017.14,-1.12),(2017.46,-0.98),(2017.7,-0.76)]

panel_titles = ["A. Cross-Country Nominal Interest Rates",
                "B. Cross-Country Real Interest Rates",
                "C. Cross-Country Real Interest Rate Gaps"]
panel_ylabels = ["Nominal Policy Rate\n(Percent, Annualized)",
                 "Natural Interest\n(Percent, Annualized)",
                 "Real Interest Rate Gap\n(Percent, Annualized)"]
panel_series = [[aus_a, can_a, kor_a, swe_a, swi_a, uk_a],
                [aus_b, can_b, kor_b, swe_b, swi_b, uk_b],
                [aus_c, can_c, kor_c, swe_c, swi_c, uk_c]]
panel_ylim = [(-5, 20), (-4, 10), (-4, 3)]
panel_yticks = [list(range(-5, 21, 5)), list(range(-4, 11, 2)), list(range(-4, 4, 1))]
xticks = [1985, 1990, 1995, 2000, 2005, 2010, 2015]

# ---------------- styling ----------------
colors = ["#2342c8", "#12881a", "#cc2a2e", "#3c3c3c", "#f0a11c", "#5b7ad8"]
widths = [2.2, 2.0, 1.8, 1.8, 1.9, 2.1]
lstyles = ["-", (0, (4, 2.5)), (0, (3.2, 1.2, 1, 1.2)), (0, (1, 1.1)), "-", (0, (3.5, 2.2))]
# legend samples are drawn thin, with their own dash lengths
leg_width = 1.1
leg_styles = ["-", (0, (9.0, 9.5)), (0, (4.5, 2.2)), (0, (1.6, 2.4)), "-", (0, (6.0, 12.5))]

plt.rcParams["font.family"] = ["Liberation Sans", "DejaVu Sans"]
plt.rcParams["axes.unicode_minus"] = False
ink = "#262626"

fig = plt.figure(figsize=(7.96, 11.75), dpi=100)
W, H = 796.0, 1175.0
ax_px = [(42.7, 366.7), (442.3, 765.0), (837.3, 1159.0)]
left_px, right_px = 70.7, 797.4
title_xy = [(439.5, 18.0), (429.5, 420.0), (439.0, 816.5)]
ylabel_x = [-0.038, -0.052, -0.039]
legend_anchor = [(0.9843, 0.9775), (0.9784, 0.9637), (0.9784, 0.9708)]

axes, legends = [], []
for p in range(3):
    top, bot = ax_px[p]
    ax = fig.add_axes([left_px / W, 1 - bot / H, (right_px - left_px) / W, (bot - top) / H])
    zero_col = "#777777" if p < 2 else "black"
    ax.axhline(0, color=zero_col, lw=0.9, zorder=1)
    for k, series in enumerate(panel_series[p]):
        df = pd.DataFrame(series, columns=["year", "value"])
        sns.lineplot(data=df, x="year", y="value", ax=ax, color=colors[k],
                     linewidth=widths[k], linestyle=lstyles[k],
                     estimator=None, sort=False, legend=False, zorder=2 + k * 0.1)
    if p == 2:
        ax.axhline(0, color="black", lw=0.8, zorder=3)
    ax.set_xlim(1983, 2017.75)
    ax.set_ylim(*panel_ylim[p])
    ax.set_xticks(xticks)
    ax.set_yticks(panel_yticks[p])
    ax.tick_params(direction="in", top=True, right=True, length=4, width=0.8,
                   labelsize=9.3, colors=ink, pad=4)
    for s in ax.spines.values():
        s.set_color(ink)
        s.set_linewidth(0.8)
    ax.set_xlabel("")
    ax.set_ylabel(panel_ylabels[p], fontsize=10.5, color=ink, linespacing=1.15)
    ax.yaxis.set_label_coords(ylabel_x[p], 0.5)
    tx, ty = title_xy[p]
    fig.text(tx / W, 1 - ty / H, panel_titles[p], ha="center", va="center",
             fontsize=12.4, fontweight="bold", family="Liberation Serif", color="#111111")
    handles = [Line2D([0], [0], color=colors[k], lw=leg_width, linestyle=leg_styles[k])
               for k in range(6)]
    leg = ax.legend(handles, countries, loc="upper right", bbox_to_anchor=legend_anchor[p],
                    fontsize=8.8, frameon=False, handlelength=4.1, handletextpad=0.4,
                    labelspacing=-0.26, borderpad=0.15, borderaxespad=0.0)
    leg.set_zorder(6)
    for t in leg.get_texts():
        t.set_color("#111111")
    axes.append(ax)
    legends.append(leg)

# legend boxes: a white frame slightly wider than the legend content
fig.canvas.draw()
renderer = fig.canvas.get_renderer()
for ax, leg in zip(axes, legends):
    bb = leg.get_window_extent(renderer)
    padx = 5.0
    rect = Rectangle((bb.x0 - padx, bb.y0), bb.width + 2 * padx, bb.height,
                     transform=IdentityTransform(), facecolor="white",
                     edgecolor="#222222", linewidth=1.0, zorder=5.5, clip_on=False)
    ax.add_patch(rect)

fig.savefig("out.png", dpi=100)
